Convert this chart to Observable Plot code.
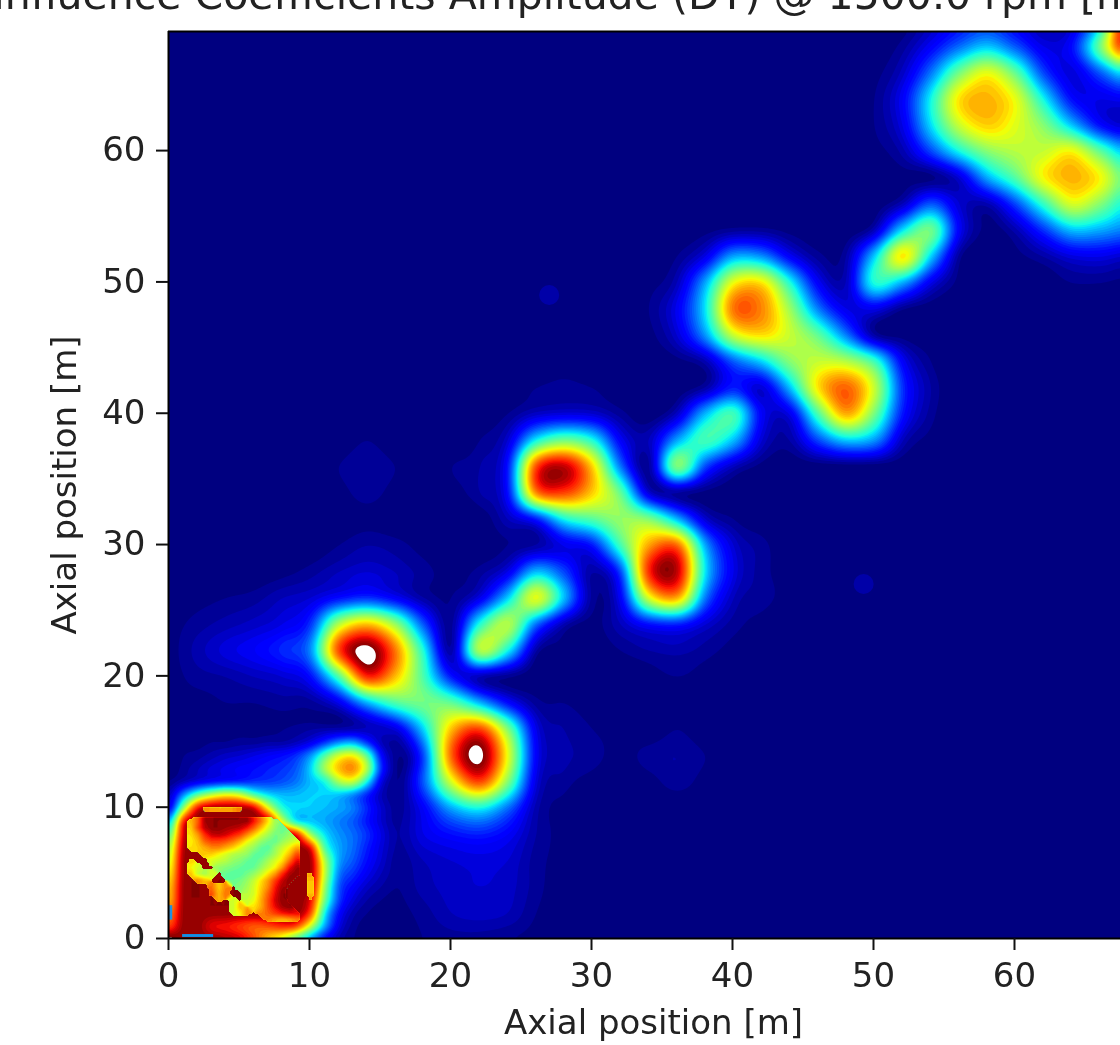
<!DOCTYPE html>
<html>
<head>
<meta charset="utf-8">
<script src="https://cdn.jsdelivr.net/npm/d3@7"></script>
<script src="https://cdn.jsdelivr.net/npm/@observablehq/plot@0.6"></script>
<style>
html,body{margin:0;padding:0;background:#fff;overflow:hidden}
svg{display:block;filter:blur(0.6px)}
</style>
</head>
<body>
<div id="chart"></div>
<script>
const titleText = "Influence Coefficients Amplitude (DT) @ 1500.0 rpm [m/N]";
const axisLabel = "Axial position [m]";
const xTicks = [0,10,20,30,40,50,60];
const yTicks = [0,10,20,30,40,50,60];
const jetStops = [0,11,12.5,34,35,37.5,64,65,66,89,91,100,100.5];
const jetColors = ["rgb(0,0,128)","rgb(0,0,255)","rgb(0,0,255)","rgb(0,219,255)","rgb(0,230,247)","rgb(21,255,226)","rgb(239,255,8)","rgb(247,245,0)","rgb(255,236,0)","rgb(255,19,0)","rgb(232,0,0)","rgb(128,0,0)","rgb(255,255,255)"];
const levels = [...d3.range(2,101,2),100.5];

// Coarse samples, every 2 m on both axes; rows run from y = 0 upward.
const rowsLow = [
[0,0,0,0,0,0,0,0,0,2,3,3,2,1],
[0,0,0,0,0,0,0,0,0,3,6,7,6,2],
[0,0,0,0,0,0,0,0,0,5,7,8,7,3],
[0,0,0,0,0,0,0,0,0,6,8,9,8,3,1],
[0,0,0,0,0,0,0,0,0,10,14,16,12,4,1],
[0,0,0,0,0,0,0,0,0,12,30,38,24,5,1],
[0,0,0,0,0,0,0,0,0,22,62,85,52,9,3,1,0,1,3,1],
[0,0,0,0,0,0,0,0,0,20,82,103,64,12,5,3,1,3,4,2],
[0,0,0,0,0,0,0,0,0,34,72,86,52,10,4,2,1,0,2],
[1,1,2,2,3,3,10,30,45,50,48,32,14,3,2,1],
[1,3,4,6,8,14,45,88,72,45,15,5,2,0,0,0,0,1,2,1],
[1,5,9,12,17,27,85,104,80,40,4,58,38,4,1,0,2,4,5,3,1],
[1,3,5,7,10,18,58,72,55,22,3,40,58,24,5,1,6,14,16,8,3,1],
[0,1,2,3,6,8,14,18,12,4,2,10,34,64,32,3,12,62,74,25,6,3,1],
[0,0,0,0,1,3,6,8,6,3,1,3,10,32,20,4,20,88,96,36,10,3,1],
[0,0,0,0,0,0,2,4,3,1,0,0,2,4,10,15,44,75,82,30,8,3]
];
const rowsMid = [
[0,0,0,0,0,0,0,1,0,0,0,0,6,15,38,46,54,52,32,8,2],
[0,0,0,0,0,0,1,3,1,0,1,4,14,78,85,70,48,8,3,1],
[0,0,0,0,0,0,2,4,2,0,2,4,15,85,96,70,25,3,52,20,6,1],
[0,0,0,0,0,0,0,2,0,0,0,2,8,38,50,40,12,6,30,44,32,8,4,20,33,28,6,1],
[0,0,0,0,0,0,0,0,0,0,0,0,2,7,9,8,3,0,7,32,44,12,10,45,74,50,15,3],
[0,0,0,0,0,0,0,0,0,0,0,0,0,2,3,2,0,0,0,4,16,8,32,68,82,60,18,4],
[0,0,0,0,0,0,0,0,0,0,0,0,0,0,1,0,0,0,1,5,22,34,52,60,58,44,12,2],
[0,0,0,0,0,0,0,0,0,0,0,0,0,0,0,0,0,1,8,28,60,68,60,48,26,4,1],
[0,0,0,0,0,0,0,0,0,0,0,0,0,0,0,0,0,2,11,36,80,78,55,26,10,10,2]
];
const rowsHigh = [
[0,0,0,0,0,0,0,0,0,0,0,0,0,0,0,0,0,1,6,30,65,68,40,12,6,40,30,10,1,0,0,0,2,2,1],
[0,0,0,0,0,0,0,0,0,0,0,0,0,0,0,0,0,0,2,10,30,28,12,3,4,34,68,34,3,0,1,4,9,10,7],
[0,0,0,0,0,0,0,0,0,0,0,0,0,0,0,0,0,0,0,1,3,3,1,0,0,6,36,50,12,1,5,18,32,30,25],
[0,0,0,0,0,0,0,0,0,0,0,0,0,0,0,0,0,0,0,0,0,0,0,0,0,0,6,22,8,5,20,42,62,52,36],
[0,0,0,0,0,0,0,0,0,0,0,0,0,0,0,0,0,0,0,0,0,0,0,0,0,0,1,1,8,30,46,66,73,66,45],
[0,0,0,0,0,0,0,0,0,0,0,0,0,0,0,0,0,0,0,0,0,0,0,0,0,1,5,20,38,52,58,60,66,48,30],
[0,0,0,0,0,0,0,0,0,0,0,0,0,0,0,0,0,0,0,0,0,0,0,0,0,2,10,35,60,70,63,52,33,14,7],
[0,0,0,0,0,0,0,0,0,0,0,0,0,0,0,0,0,0,0,0,0,0,0,0,0,2,12,38,68,73,64,38,14,10,12],
[0,0,0,0,0,0,0,0,0,0,0,0,0,0,0,0,0,0,0,0,0,0,0,0,0,1,7,25,50,64,48,20,9,22,40],
[0,0,0,0,0,0,0,0,0,0,0,0,0,0,0,0,0,0,0,0,0,0,0,0,0,0,3,12,24,33,22,10,14,50,96],
[0,0,0,0,0,0,0,0,0,0,0,0,0,0,0,0,0,0,0,0,0,0,0,0,0,0,0,5,12,16,10,4,6,30,106]
];

// Corner samples, every 1 m for 0..16 m on both axes; rows run from y = 0 upward.
const cornerRows = [
[105,100,100,100,98,95,85,70,58,42,26,12,5,2,1,0,0],
[85,100,100,92,90,86,82,84,88,85,60,30,10,3,1,1,1],
[78,100,100,100,100,100,100,100,100,100,85,38,14,5,2,1,1],
[72,100,100,100,100,100,100,100,100,100,92,50,20,9,4,2,1],
[70,100,100,100,100,100,100,100,100,100,98,55,22,13,7,4,2],
[65,100,100,100,100,100,100,100,100,100,100,60,26,18,11,6,3],
[60,100,100,100,100,100,100,100,100,100,100,58,30,22,14,8,3],
[55,98,100,100,100,100,100,100,100,100,92,45,30,24,16,9,4],
[45,95,100,100,100,100,100,100,100,92,55,36,28,24,18,10,4],
[30,90,100,100,100,100,100,98,62,36,33,30,26,22,15,8,3],
[10,55,92,100,100,100,95,65,40,35,34,32,30,26,17,8,3],
[6,28,48,60,66,62,46,36,32,32,34,34,32,26,16,6,2],
[2,6,10,13,15,16,18,19,21,25,32,38,56,60,38,10,2],
[0,3,6,9,11,13,14,16,18,22,34,56,72,78,58,18,3],
[0,2,3,5,7,8,10,12,14,18,28,46,62,66,48,14,3],
[0,1,1,2,2,3,3,4,4,6,10,18,27,30,18,6,3],
[0,1,1,1,1,1,1,1,2,3,4,5,5,5,6,7,8]
];

// Small isolated spots: [x, y, value].
const spots = [[27,49,3.5],[49.3,27,3.5]];

// Wrapped-around patches inside the corner ring, every 0.5 m;
// rows run from y = 10 down to y = 1.5, columns from x = 1 to x = 10.5.
const _ = NaN;
const patchRows = [
[_,_,_,78,75,74,74,76,80,_,_,_,_,_,_,_,_,_,_,_],
[_,_,_,_,_,_,_,_,_,_,_,_,_,_,_,_,_,_,_,_],
[_,72,82,98,100,100,100,100,100,99,90,80,68,55,_,_,_,_,_,_],
[_,70,84,96,100,100,98,97,95,90,82,72,62,54,48,_,_,_,_,_],
[_,68,76,88,95,96,94,90,86,78,70,62,56,50,50,54,_,_,_,_],
[_,66,72,82,86,86,84,80,74,66,60,54,50,48,54,58,62,_,_,_],
[_,68,70,74,78,78,74,70,64,58,54,48,46,54,60,66,74,_,_,_],
[_,_,_,70,70,66,62,58,56,54,48,46,50,56,64,72,84,_,_,_],
[_,70,_,_,62,60,58,54,52,48,46,50,56,62,68,80,92,_,_,_],
[_,66,62,_,_,54,52,50,48,46,48,54,60,66,76,90,98,_,_,_],
[_,72,60,56,62,_,48,46,46,50,54,60,68,76,88,97,100,_,76,_],
[_,_,78,72,_,_,_,48,50,54,60,68,76,86,95,100,_,_,72,_],
[_,_,_,_,80,70,78,_,52,56,62,70,78,90,98,_,_,_,70,_],
[_,_,_,_,84,72,80,_,_,58,62,72,82,92,100,_,_,_,72,_],
[_,_,_,_,_,74,_,62,_,60,64,74,84,94,100,_,_,_,78,_],
[_,_,_,_,_,_,_,60,72,_,68,74,84,92,98,100,_,_,_,_],
[_,_,_,_,_,_,_,62,66,78,_,78,82,86,90,92,92,_,_,_],
[_,_,_,_,_,_,_,_,_,_,_,_,78,74,72,74,78,_,_,_]
];
const strips = [
{x1:1,x2:3.2,y1:0.08,y2:0.3,color:"#1090e8"},
{x1:0.08,x2:0.3,y1:1.4,y2:2.5,color:"#2090e0"}
];

const NX = 35, NY = 36, NC = 17;
const samples = [];
[...rowsLow,...rowsMid,...rowsHigh].forEach((row,j)=>{
  for(let i=0;i<NX;i++){
    const x=i*2,y=j*2;
    samples.push({x,y,v:(x<=16&&y<=16)?cornerRows[y][x]:(row[i]??0)});
  }
});
cornerRows.forEach((row,y)=>row.forEach((v,x)=>samples.push({x,y,v})));
const patchSamples = patchRows.flatMap((row,j)=>row.map((v,i)=>({x:1+i*0.5,y:10-j*0.5,v})));

// Plot interpolators: smooth surface through the two sample grids.
const cr=(a,b,c,d,t)=>b+0.5*t*(c-a+t*(2*a-5*b+4*c-d+t*(3*(b-c)+d-a)));
function bicubic(get,gx,gy){
  const i=Math.floor(gx),j=Math.floor(gy),fx=gx-i,fy=gy-j,r=[];
  for(let k=-1;k<=2;k++) r.push(cr(get(i-1,j+k),get(i,j+k),get(i+1,j+k),get(i+2,j+k),fx));
  return cr(r[0],r[1],r[2],r[3],fy);
}
function surface(index,w,h,X,Y,V){
  const W=new Float64Array(w*h);
  const c=(v,n)=>v<0?0:v>=n?n-1:v;
  const sx=X[1]-X[0],sy=Y[NX]-Y[0],ox=X[0],oy=Y[0],off=NX*NY;
  const main=(i,j)=>V[c(j,NY)*NX+c(i,NX)];
  const corner=(i,j)=>V[off+c(j,NC)*NC+c(i,NC)];
  for(let py=0;py<h;py++)for(let px=0;px<w;px++){
    const gx=Math.max(0,(px-ox)/sx),gy=Math.max(0,(py-oy)/sy);
    let v;
    if(gx<8&&gy<8){
      v=bicubic(corner,gx*2,gy*2);
      if((gx>0.3||gy>0.3)&&v>100) v=100;
    } else v=bicubic(main,gx,gy);
    W[py*w+px]=v;
  }
  return W;
}
function patches(index,w,h,X,Y,V){
  const W=new Float64Array(w*h);
  const nc=patchRows[0].length,nr=patchRows.length;
  const sx=X[1]-X[0],sy=Y[nc]-Y[0],ox=X[0],oy=Y[0];
  const val=(a,b)=>(a<0||b<0||a>=nc||b>=nr)?NaN:V[b*nc+a];
  const kern=[1,4,1];
  const mask=new Float64Array(nc*nr);
  for(let b=0;b<nr;b++)for(let a=0;a<nc;a++){
    let m=0;
    for(let q=-1;q<=1;q++)for(let p=-1;p<=1;p++) if(Number.isFinite(val(a+p,b+q))) m+=kern[p+1]*kern[q+1];
    mask[b*nc+a]=m/36;
  }
  const mk=(a,b)=>(a<0||b<0||a>=nc||b>=nr)?0:mask[b*nc+a];
  for(let py=0;py<h;py++)for(let px=0;px<w;px++){
    const gx=(px-ox)/sx,gy=(py-oy)/sy,i=Math.floor(gx),j=Math.floor(gy),fx=gx-i,fy=gy-j;
    const corners=[[i,j,(1-fx)*(1-fy)],[i+1,j,fx*(1-fy)],[i,j+1,(1-fx)*fy],[i+1,j+1,fx*fy]];
    let m=0,sw=0,sv=0;
    for(const [a,b,wt] of corners){
      m+=wt*mk(a,b);
      const v=val(a,b);
      if(Number.isFinite(v)){sw+=wt;sv+=wt*v;}
    }
    if(m<0.42){W[py*w+px]=-1000;continue;}
    if(sw>0){W[py*w+px]=sv/sw;continue;}
    let s=0,n=0;
    for(let q=-1;q<=2;q++)for(let p=-1;p<=2;p++){const v=val(i+p,j+q);if(Number.isFinite(v)){s+=v;n++;}}
    W[py*w+px]=n?s/n:-1000;
  }
  return W;
}

const ink = "#222";
const fs = 34;
const plot = Plot.plot({
  width:1120,height:1045,
  marginLeft:168,marginRight:0,marginTop:31,marginBottom:107,
  style:{background:"#fff",fontFamily:"'DejaVu Sans'",fontSize:fs+"px",color:ink,overflow:"hidden",maxWidth:"none"},
  x:{domain:[0,67.518],label:null},
  y:{domain:[0,69.07],label:null},
  color:{type:"linear",domain:jetStops,range:jetColors,interpolate:"rgb",clamp:true},
  marks:[
    Plot.frame({fill:"#000080",stroke:null}),
    Plot.contour(samples,{x:"x",y:"y",value:"v",fill:"value",thresholds:levels,interpolate:surface,pixelSize:2,blur:1,clip:true}),
    Plot.dot(spots,{x:d=>d[0],y:d=>d[1],fill:d=>d[2],r:10}),
    Plot.contour(patchSamples,{x:"x",y:"y",value:"v",fill:"value",thresholds:d3.range(30,101,2),interpolate:patches,pixelSize:2,clip:true}),
    Plot.rect(strips,{x1:"x1",x2:"x2",y1:"y1",y2:"y2",fill:"color"}),
    Plot.ruleX([0],{stroke:"#000",strokeWidth:2}),
    Plot.ruleY([0],{stroke:"#000",strokeWidth:2}),
    Plot.ruleY([69.07],{stroke:"#000",strokeWidth:2}),
    Plot.axisX({ticks:xTicks,tickSize:12,tickPadding:12,stroke:"#111",strokeWidth:2,fontSize:fs,fill:ink,label:null,tickFormat:d3.format("d")}),
    Plot.axisY({ticks:yTicks,tickSize:12,tickPadding:11,stroke:"#111",strokeWidth:2,fontSize:fs,fill:ink,label:null,tickFormat:d3.format("d")}),
    Plot.text([axisLabel],{text:d=>d,frameAnchor:"bottom",dx:9,dy:85,fontSize:fs,fill:ink,lineAnchor:"middle"}),
    Plot.text([axisLabel],{text:d=>d,frameAnchor:"left",dx:-103,dy:0,rotate:-90,fontSize:fs,fill:ink,lineAnchor:"middle",textAnchor:"middle"}),
    Plot.text([titleText],{text:d=>d,frameAnchor:"top",dx:-50,dy:-36,fontSize:41,fill:ink,lineAnchor:"middle"})
  ]
});
document.getElementById("chart").append(plot);
</script>
</body>
</html>
